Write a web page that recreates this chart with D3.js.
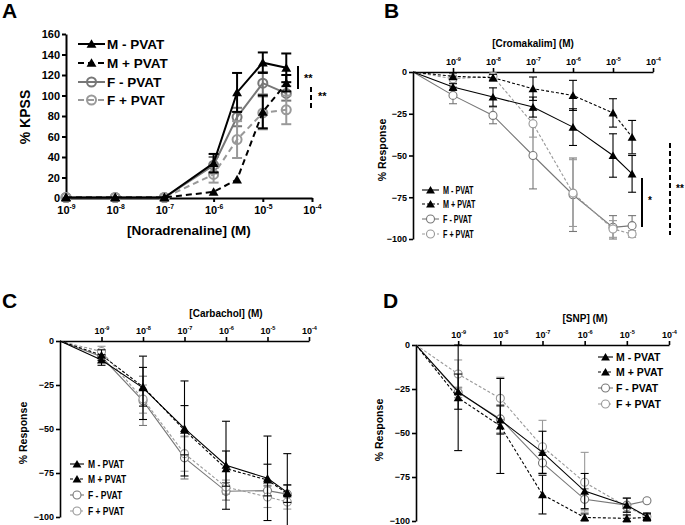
<!DOCTYPE html>
<html><head><meta charset="utf-8">
<script src="https://cdn.jsdelivr.net/npm/d3@7"></script>
<style>
body{margin:0;background:#fff}
text{font-family:Arial,"Liberation Sans",sans-serif;font-weight:bold;fill:#000}
</style>
</head><body>
<svg id="c" width="685" height="525"></svg>
<script>
// ---------- shared ----------
const seriesNames = ["M - PVAT", "M + PVAT", "F - PVAT", "F + PVAT"];
const decadeTicks = [1e-9, 1e-8, 1e-7, 1e-6, 1e-5, 1e-4];
const decadeExps = ["-9", "-8", "-7", "-6", "-5", "-4"];

// ---------- Panel A : Noradrenaline (% KPSS) ----------
const concA = [1e-9, 1e-8, 1e-7, 1e-6, 3e-6, 1e-5, 3e-5];
const A_Mminus = [0.5, 0.5, 0.5, 34, 103, 132, 127];
const A_Mminus_err = [0, 0, 0, 9, 19, 10, 14];
const A_Mplus = [0.5, 0.5, 0.5, 6, 18, 84, 112];
const A_Mplus_err = [0, 0, 0, 0, 0, 16, 8];
const A_Fminus = [0.5, 0.5, 0.5, 32, 79, 112, 102];
const A_Fminus_err = [0, 0, 0, 8, 9, 11, 7];
const A_Fplus = [0.5, 0.5, 0.5, 23, 57, 83, 86];
const A_Fplus_err = [0, 0, 0, 8, 18, 16, 14];
const A_yTicks = [0, 20, 40, 60, 80, 100, 120, 140, 160];

// ---------- Panels B-D : relaxation (% Response) ----------
const concRelax = [1e-10, 1e-9, 1e-8, 1e-7, 1e-6, 1e-5, 3e-5];
const relaxTicks = [0, -25, -50, -75, -100];

const B_Mminus = [0, -9, -15, -21, -33, -50, -61];
const B_Mminus_err = [0, 2, 5.5, 6, 11, 13, 11];
const B_Mplus = [0, -2.6, -3.4, -10, -14, -24.5, -39];
const B_Mplus_err = [0, 2, 2, 7, 9, 8.5, 10];
const B_Fminus = [0, -14, -26, -50, -73.5, -93, -92];
const B_Fminus_err = [0, 5, 5, 20, 22, 7, 6];
const B_Fplus = [0, -4, -2.6, -31, -72.5, -94, -97];
const B_Fplus_err = [0, 2, 2, 8, 20, 5, 2];

const C_Mminus = [0, -10.8, -26.6, -49.7, -70.6, -78, -86];
const C_Mminus_err = [0, 3, 18, 27, 25, 24, 22];
const C_Mplus = [0, -8, -26, -50.7, -72.5, -79, -86.7];
const C_Mplus_err = [0, 3, 11, 14, 10, 9, 5];
const C_Fminus = [0, -9, -34, -66.4, -85.4, -85, -87];
const C_Fminus_err = [0, 3, 14, 12, 5, 3, 5];
const C_Fplus = [0, -6, -33, -64, -83, -88.6, -91.5];
const C_Fplus_err = [0, 3, 8, 10, 4, 6, 4];

const D_Mminus = [0, -26.5, -42.6, -61, -83, -91, -97.5];
const D_Mminus_err = [0, 10, 8, 12, 10, 4, 2];
const D_Mplus = [0, -30, -46, -85, -98, -98.5, -98];
const D_Mplus_err = [0, 30, 27, 11, 2, 2, 2];
const D_Fminus = [0, -27, -42, -67, -87.7, -91, -88.5];
const D_Fminus_err = [0, 3, 8, 6, 6, 4, 0];
const D_Fplus = [0, -16.5, -30.3, -57.8, -78, -92, -97.5];
const D_Fplus_err = [0, 8, 12, 15, 17, 5, 2];

// ---------- drawing ----------
const svg = d3.select("#c");
const styles = [
  {color: "#000", dash: null, sym: "tri"},
  {color: "#000", dash: "4,3", sym: "tri"},
  {color: "#777", dash: null, sym: "circ"},
  {color: "#999", dash: "3,2", sym: "circ"}
];

function supText(sel, exp, fs) {
  sel.text(null);
  sel.append("tspan").text("10");
  sel.append("tspan").attr("dy", -fs * 0.45).attr("font-size", fs * 0.62).text(exp);
}

function drawMarker(g, st, cx, cy, c) {
  if (st.sym === "tri") {
    g.append("path").attr("d", d3.symbol(d3.symbolTriangle, c.tri)())
      .attr("transform", `translate(${cx},${cy + 1})`).attr("fill", st.color);
  } else {
    g.append("circle").attr("cx", cx).attr("cy", cy).attr("r", c.r)
      .attr("fill", c.circFill).attr("stroke", st.color).attr("stroke-width", c.mlw);
  }
}

function drawPanel(c) {
  const g = svg.append("g");
  const x = d3.scaleLog().domain(c.xd).range(c.xr);
  const y = d3.scaleLinear().domain(c.yd).range(c.yr);

  // y axis
  const ya = g.append("g").attr("transform", `translate(${c.xr[0]},0)`)
    .call(d3.axisLeft(y).tickValues(c.yTicks).tickSize(4).tickPadding(2).tickSizeOuter(0));
  ya.selectAll("text").attr("font-size", c.tickFs).style("font-family", "Arial").style("font-weight", "bold");
  ya.selectAll("path,line").attr("stroke", "#000").attr("stroke-width", c.axLw);

  // x axis
  const xAxisY = y(c.xAxisAt);
  const axisGen = c.top ? d3.axisTop(x) : d3.axisBottom(x);
  const xa = g.append("g").attr("transform", `translate(0,${xAxisY})`)
    .call(axisGen.tickValues(decadeTicks).tickSize(4).tickPadding(c.xPad).tickSizeOuter(0));
  xa.selectAll("path,line").attr("stroke", "#000").attr("stroke-width", c.axLw);
  xa.selectAll("text").attr("font-size", c.xTickFs).style("font-family", "Arial").style("font-weight", "bold")
    .each(function(d, i) { supText(d3.select(this), decadeExps[i], c.xTickFs); });

  // series (gray first, black on top)
  [2, 3, 0, 1].forEach(si => {
    const st = styles[si];
    const vals = c.vals[si], errs = c.errs[si];
    const pts = c.conc.map((v, i) => [x(v), y(vals[i]), y(vals[i] - errs[i]), y(vals[i] + errs[i]), errs[i], i]);
    const sg = g.append("g");
    // error bars
    pts.forEach(p => {
      if (p[4] > 0) {
        sg.append("line").attr("x1", p[0]).attr("x2", p[0]).attr("y1", p[2]).attr("y2", p[3])
          .attr("stroke", st.color).attr("stroke-width", c.elw);
        [p[2], p[3]].forEach(yy => sg.append("line").attr("x1", p[0] - c.cap).attr("x2", p[0] + c.cap)
          .attr("y1", yy).attr("y2", yy).attr("stroke", st.color).attr("stroke-width", c.elw));
      }
    });
    sg.append("path").attr("d", d3.line()(pts.map(p => [p[0], p[1]])))
      .attr("fill", "none").attr("stroke", st.color).attr("stroke-width", c.lw)
      .attr("stroke-dasharray", st.dash ? c.dash[si] : null);
    pts.forEach(p => {
      if (c.firstMarker || p[5] > 0) drawMarker(sg, st, p[0], p[1], c);
    });
  });

  // legend
  seriesNames.forEach((name, i) => {
    const st = styles[i];
    const ly = c.leg.y[i];
    g.append("line").attr("x1", c.leg.x0).attr("x2", c.leg.x1).attr("y1", ly).attr("y2", ly)
      .attr("stroke", st.color).attr("stroke-width", c.lw)
      .attr("stroke-dasharray", st.dash ? c.dash[i] : null);
    drawMarker(g, st, (c.leg.x0 + c.leg.x1) / 2, ly, c);
    g.append("text").attr("transform", `translate(${c.leg.tx},${ly + c.leg.fs * 0.36}) scale(${c.leg.sx},1)`)
      .attr("font-size", c.leg.fs).text(name);
  });

  // titles
  g.append("text").attr("x", c.xt[0]).attr("y", c.xt[1]).attr("text-anchor", "middle")
    .attr("font-size", c.xtFs).text(c.xTitle);
  g.append("text").attr("transform", `translate(${c.yt[0]},${c.yt[1]}) rotate(-90)`)
    .attr("text-anchor", "middle").attr("font-size", c.ytFs).text(c.yTitle);
  g.append("text").attr("x", c.letter[0]).attr("y", c.letter[1]).attr("font-size", 21).text(c.letter[2]);

  // significance markers
  (c.sig || []).forEach(s => {
    g.append("line").attr("x1", s.x).attr("x2", s.x).attr("y1", s.y0).attr("y2", s.y1)
      .attr("stroke", "#000").attr("stroke-width", s.w).attr("stroke-dasharray", s.dash);
    g.append("text").attr("x", s.tx).attr("y", s.ty).attr("font-size", s.fs).text(s.t);
  });
}

drawPanel({
  xr: [66, 312], yr: [198, 34], xd: [1e-9, 1e-4], yd: [0, 160], xAxisAt: 0, top: false,
  yTicks: A_yTicks, tickFs: 11, xTickFs: 11, xPad: 4, axLw: 2,
  conc: concA,
  vals: [A_Mminus, A_Mplus, A_Fminus, A_Fplus],
  errs: [A_Mminus_err, A_Mplus_err, A_Fminus_err, A_Fplus_err],
  lw: 2, elw: 2, cap: 5, tri: 42, r: 4.5, mlw: 2, circFill: "none", firstMarker: true,
  dash: [null, "6,4", null, "6,4"],
  leg: {x0: 78, x1: 105, tx: 107, y: [44, 63, 82, 100], fs: 13.5, sx: 1},
  xTitle: "[Noradrenaline] (M)", xt: [189, 235], xtFs: 13.5,
  yTitle: "% KPSS", yt: [30, 117], ytFs: 14,
  letter: [2, 18, "A"],
  sig: [
    {x: 298, y0: 66, y1: 89, w: 2, dash: null, t: "**", tx: 304, ty: 82, fs: 11},
    {x: 311, y0: 87, y1: 108, w: 2, dash: "5,3", t: "**", tx: 318, ty: 100, fs: 11}
  ]
});

const relaxCommon = {
  xd: [1e-10, 1e-4], yd: [0, -100], xAxisAt: 0, top: true,
  yTicks: relaxTicks, tickFs: 9, xTickFs: 9, xPad: 3, axLw: 1.6,
  conc: concRelax, lw: 1.1, elw: 1.1, cap: 4, tri: 34, r: 4, mlw: 1.1, circFill: "#fff", firstMarker: false,
  dash: [null, "3,2", null, "3,2"], xtFs: 10, ytFs: 10.5
};

drawPanel(Object.assign({}, relaxCommon, {
  xr: [413, 653], yr: [72, 239],
  vals: [B_Mminus, B_Mplus, B_Fminus, B_Fplus],
  errs: [B_Mminus_err, B_Mplus_err, B_Fminus_err, B_Fplus_err],
  leg: {x0: 422, x1: 439, tx: 443, y: [190, 204, 219, 234], fs: 10, sx: 0.72},
  xTitle: "[Cromakalim] (M)", xt: [533, 47],
  yTitle: "% Response", yt: [386, 150],
  letter: [384, 18, "B"],
  sig: [
    {x: 642, y0: 178, y1: 227, w: 2, dash: null, t: "*", tx: 648, ty: 204, fs: 10},
    {x: 670, y0: 143, y1: 235, w: 2, dash: "5,3", t: "**", tx: 676, ty: 192, fs: 10}
  ]
}));

drawPanel(Object.assign({}, relaxCommon, {
  xr: [60, 309], yr: [341, 517],
  vals: [C_Mminus, C_Mplus, C_Fminus, C_Fplus],
  errs: [C_Mminus_err, C_Mplus_err, C_Fminus_err, C_Fplus_err],
  leg: {x0: 70, x1: 84, tx: 88, y: [464, 479, 495, 511], fs: 10, sx: 0.85},
  xTitle: "[Carbachol] (M)", xt: [226, 317],
  yTitle: "% Response", yt: [27, 433],
  letter: [2, 308, "C"]
}));

drawPanel(Object.assign({}, relaxCommon, {
  xr: [416, 669], yr: [345, 521],
  vals: [D_Mminus, D_Mplus, D_Fminus, D_Fplus],
  errs: [D_Mminus_err, D_Mplus_err, D_Fminus_err, D_Fplus_err],
  leg: {x0: 598, x1: 613, tx: 616, y: [357, 372, 388, 404], fs: 10.5, sx: 1},
  xTitle: "[SNP] (M)", xt: [585, 322],
  yTitle: "% Response", yt: [383, 430],
  letter: [383, 308, "D"]
}));
</script>
</body></html>
